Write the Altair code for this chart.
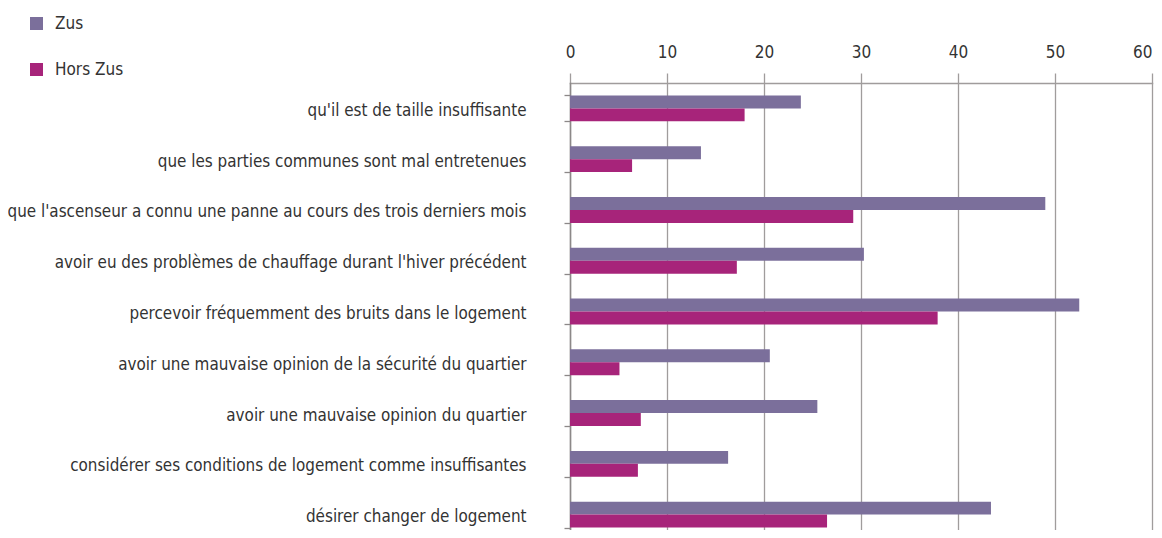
import altair as alt
import pandas as pd

categories = [
    "qu'il est de taille insuffisante",
    "que les parties communes sont mal entretenues",
    "que l'ascenseur a connu une panne au cours des trois derniers mois",
    "avoir eu des problèmes de chauffage durant l'hiver précédent",
    "percevoir fréquemment des bruits dans le logement",
    "avoir une mauvaise opinion de la sécurité du quartier",
    "avoir une mauvaise opinion du quartier",
    "considérer ses conditions de logement comme insuffisantes",
    "désirer changer de logement",
]
zus = [23.8, 13.5, 49.0, 30.3, 52.5, 20.6, 25.5, 16.3, 43.4]
hors_zus = [18.0, 6.4, 29.2, 17.2, 37.9, 5.1, 7.3, 7.0, 26.5]
series = ["Zus", "Hors Zus"]
colors = ["#7b6f9b", "#a7247a"]

rows = []
for c, a, b in zip(categories, zus, hors_zus):
    rows.append({"cat": c, "serie": "Zus", "val": a})
    rows.append({"cat": c, "serie": "Hors Zus", "val": b})
df = pd.DataFrame(rows)

FONT = "DejaVu Sans Condensed"

chart = alt.Chart(df).mark_bar().encode(
    x=alt.X("val:Q", scale=alt.Scale(domain=[0, 60], nice=False),
            axis=alt.Axis(orient="top", values=[0, 10, 20, 30, 40, 50, 60], title=None,
                          grid=True, gridColor="#a09c9c", gridWidth=1.3,
                          domainColor="#a09c9c", domainWidth=1.5,
                          tickColor="#a09c9c", tickSize=10, tickWidth=1.3,
                          labelFontSize=17, labelColor="#333333", labelFont=FONT,
                          labelPadding=12,
                          labelAlign={"condition": {"test": "datum.value === 60", "value": "right"},
                                      "value": "center"})),
    y=alt.Y("cat:N", sort=categories,
            scale=alt.Scale(range=[0, 457], paddingInner=0.49, paddingOuter=0.245),
            axis=alt.Axis(title=None, tickBand="extent", tickSize=6, tickColor="#8c8888",
                          tickWidth=1.3, domainColor="#8c8888", domainWidth=1.5,
                          labelFontSize=16.9, labelColor="#333333", labelFont=FONT,
                          labelPadding=38, labelLimit=600, labelOffset=2)),
    yOffset=alt.YOffset("serie:N", sort=series, scale=alt.Scale(paddingInner=0, paddingOuter=0)),
    color=alt.Color("serie:N", sort=series,
                    scale=alt.Scale(domain=series, range=colors),
                    legend=alt.Legend(title=None, orient="none", legendX=-542, legendY=-68,
                                      symbolType="square", symbolSize=170, symbolStrokeWidth=0,
                                      labelFontSize=17, labelFont=FONT, labelColor="#333333",
                                      rowPadding=28, labelOffset=10)),
).properties(
    width=582, height=447,
    autosize=alt.AutoSizeParams(type="none"),
    padding={"left": 562, "top": 75, "right": 2, "bottom": 0},
).configure_view(stroke=None).configure_axis(domainCap="square")

chart.save("out.html", embed_options={"renderer": "svg", "actions": False})
